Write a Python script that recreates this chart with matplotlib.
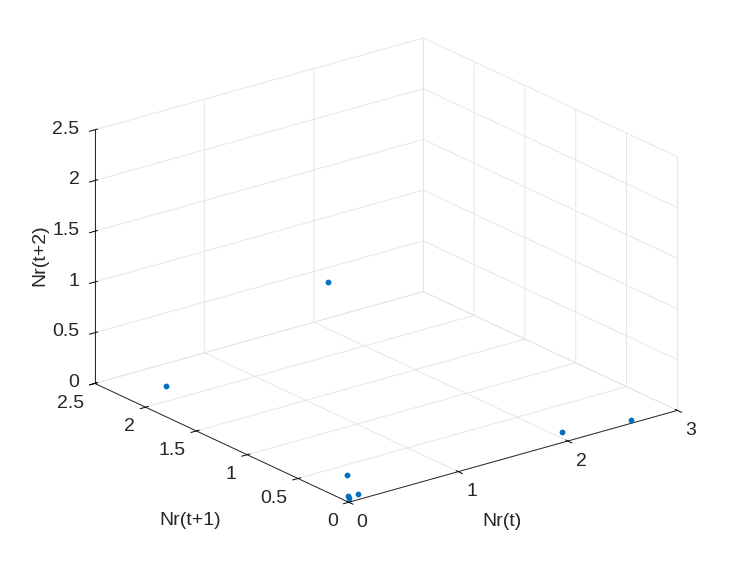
"""Delay-coordinate scatter of Nr in 3D, MATLAB-like look."""

import matplotlib

matplotlib.use("Agg")
import matplotlib.pyplot as plt

# values
nr_t = [0.37, 0.00, 2.07, 2.61, 0.01, 0.00, 0.00, 0.15]
nr_t1 = [2.20, 0.20, 0.135, 0.04, 0.03, 0.01, 0.00, 0.07]
nr_t2 = [0.00, 2.08, 0.00, 0.00, 0.25, 0.055, 0.04, 0.00]

x_ticks = [0, 1, 2, 3]
y_ticks = [0, 0.5, 1, 1.5, 2, 2.5]
z_ticks = [0, 0.5, 1, 1.5, 2, 2.5]

FS = 14
INK = "#262626"

plt.rcParams["font.family"] = ["Liberation Sans", "DejaVu Sans"]
plt.rcParams["grid.color"] = "#e3e3e3"
plt.rcParams["grid.linewidth"] = 0.6

fig = plt.figure(figsize=(7.48, 5.61), dpi=100)
ax = fig.add_axes([0.006, 0.005, 1.0, 1.0], projection="3d")
ax.set_proj_type("ortho")
ax.view_init(elev=21.2, azim=-127.7)
ax.set_box_aspect((1.0, 1.0, 0.655), zoom=1.12)

ax.scatter(nr_t, nr_t1, nr_t2, s=10, color="#0072BD", depthshade=False)

ax.set_xlim(0, 3)
ax.set_ylim(0, 2.5)
ax.set_zlim(0, 2.5)
ax.set_xticks(x_ticks)
ax.set_yticks(y_ticks)
ax.set_zticks(z_ticks)
ax.set_xticklabels([f"{v:g}" for v in x_ticks], fontsize=FS, color=INK, ha="left", va="top")
ax.set_yticklabels([f"{v:g}" for v in y_ticks], fontsize=FS, color=INK, ha="right", va="top")
ax.set_zticklabels([f"{v:g}" for v in z_ticks], fontsize=FS, color=INK, ha="right", va="center")
ax.tick_params(axis="x", pad=-1.5)
ax.tick_params(axis="y", pad=-1.2)
ax.tick_params(axis="z", pad=-2.5)

for axis in (ax.xaxis, ax.yaxis, ax.zaxis):
    axis.set_pane_color((1, 1, 1, 0))
    axis.pane.set_edgecolor("#e3e3e3")
    axis.line.set_color(INK)
    axis.line.set_linewidth(0.7)
    axis._axinfo["tick"]["color"] = INK
    axis._axinfo["tick"]["linewidth"] = {True: 0.7, False: 0.5}

fig.text(0.053, 0.545, "Nr(t+2)", rotation=90, fontsize=FS, color=INK, ha="center", va="center")
fig.text(0.254, 0.073, "Nr(t+1)", fontsize=FS, color=INK, ha="center", va="center")
fig.text(0.671, 0.07, "Nr(t)", fontsize=FS, color=INK, ha="center", va="center")

fig.savefig("out.png", dpi=100)
